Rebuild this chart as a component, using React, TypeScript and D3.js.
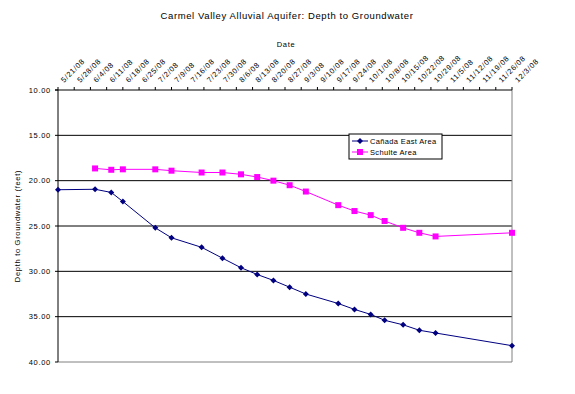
import React from 'react';
import * as d3 from 'd3';

// chart data
const parseDate = d3.timeParse('%m/%d/%y');

const canadaDates = ['05/21/08', '06/06/08', '06/13/08', '06/18/08', '07/02/08', '07/09/08', '07/22/08', '07/31/08', '08/08/08', '08/15/08', '08/22/08', '08/29/08', '09/05/08', '09/19/08', '09/26/08', '10/03/08', '10/09/08', '10/17/08', '10/24/08', '10/31/08', '12/03/08'];
const canadaDepth = [21.0, 20.95, 21.3, 22.3, 25.2, 26.3, 27.35, 28.55, 29.6, 30.35, 31.0, 31.75, 32.5, 33.55, 34.2, 34.75, 35.4, 35.9, 36.5, 36.8, 38.2];

const schulteDates = ['06/06/08', '06/13/08', '06/18/08', '07/02/08', '07/09/08', '07/22/08', '07/31/08', '08/08/08', '08/15/08', '08/22/08', '08/29/08', '09/05/08', '09/19/08', '09/26/08', '10/03/08', '10/09/08', '10/17/08', '10/24/08', '10/31/08', '12/03/08'];
const schulteDepth = [18.65, 18.8, 18.75, 18.75, 18.9, 19.1, 19.1, 19.3, 19.6, 20.0, 20.5, 21.2, 22.7, 23.35, 23.8, 24.45, 25.2, 25.75, 26.15, 25.75];

const yTicks = [10, 15, 20, 25, 30, 35, 40];
const xStart = '05/21/08';
const xEnd = '12/03/08';

const NAVY = '#000080';
const MAGENTA = '#FF00FF';
const FONT = 'Arial, "Liberation Sans", sans-serif';

type Pt = { date: Date; value: number };

const App = () => {
  const plot = { left: 58, right: 512, top: 90, bottom: 362 };

  const x = d3.scaleTime()
    .domain([parseDate(xStart)!, parseDate(xEnd)!])
    .range([plot.left, plot.right]);

  // depth axis runs downward
  const y = d3.scaleLinear()
    .domain([10, 40])
    .range([plot.top, plot.bottom]);

  const xTicks = d3.timeWednesday.range(parseDate(xStart)!, d3.timeDay.offset(parseDate(xEnd)!, 1));
  const fmt = d3.timeFormat('%-m/%-d/%y');

  const canada: Pt[] = canadaDates.map((d, i) => ({ date: parseDate(d)!, value: canadaDepth[i] }));
  const schulte: Pt[] = schulteDates.map((d, i) => ({ date: parseDate(d)!, value: schulteDepth[i] }));

  const line = d3.line<Pt>().x(d => x(d.date)).y(d => y(d.value));

  const diamond = (cx: number, cy: number, r = 3) =>
    `M${cx},${cy - r}L${cx + r},${cy}L${cx},${cy + r}L${cx - r},${cy}Z`;

  const small = { fontSize: 7.5, letterSpacing: 0.7 };
  const legendText = { fontSize: 7.5, letterSpacing: 0.35 };

  return (
    <svg width={575} height={394} style={{ position: 'absolute', left: 0, top: 0, background: '#fff' }}
      fontFamily={FONT}>
      <text x={287} y={19} textAnchor="middle" fontSize={9.5} letterSpacing={0.6}>
        Carmel Valley Alluvial Aquifer: Depth to Groundwater
      </text>
      <text x={286} y={47} textAnchor="middle" {...small}>Date</text>
      <text transform={`translate(20,${(plot.top + plot.bottom) / 2}) rotate(-90)`} textAnchor="middle" {...small}>
        Depth to Groundwater (feet)
      </text>

      {/* gridlines */}
      {yTicks.slice(1, -1).map(t => (
        <line key={t} x1={plot.left} x2={plot.right} y1={y(t)} y2={y(t)} stroke="#000" strokeWidth={1} />
      ))}
      {/* plot area border: right and bottom gray */}
      <line x1={plot.right} x2={plot.right} y1={plot.top} y2={plot.bottom} stroke="#808080" />
      <line x1={plot.left} x2={plot.right} y1={plot.bottom} y2={plot.bottom} stroke="#808080" />

      {/* y axis */}
      <line x1={plot.left} x2={plot.left} y1={plot.top} y2={plot.bottom} stroke="#000" />
      {yTicks.map(t => (
        <g key={t}>
          <line x1={plot.left - 3} x2={plot.left} y1={y(t)} y2={y(t)} stroke="#000" />
          <text x={plot.left - 7} y={y(t)} dy="0.35em" textAnchor="end" {...small}>{t.toFixed(2)}</text>
        </g>
      ))}

      {/* x axis on top */}
      <line x1={plot.left - 3} x2={plot.right} y1={plot.top} y2={plot.top} stroke="#000" />
      {xTicks.map((t, i) => (
        <g key={i}>
          <line x1={x(t)} x2={x(t)} y1={plot.top - 3} y2={plot.top} stroke="#000" />
          <text transform={`translate(${x(t) + 6},${plot.top - 7}) rotate(-45)`} {...small}>{fmt(t)}</text>
        </g>
      ))}

      {/* series */}
      <path d={line(canada) ?? ''} fill="none" stroke={NAVY} strokeWidth={1} />
      {canada.map((d, i) => (
        <path key={i} d={diamond(x(d.date), y(d.value))} fill={NAVY} />
      ))}
      <path d={line(schulte) ?? ''} fill="none" stroke={MAGENTA} strokeWidth={1} />
      {schulte.map((d, i) => (
        <rect key={i} x={x(d.date) - 3} y={y(d.value) - 3} width={6} height={6} fill={MAGENTA} />
      ))}

      {/* legend */}
      <g transform="translate(349,134)">
        <rect x={0} y={0} width={93} height={25} fill="#fff" stroke="#000" />
        <line x1={3} x2={19} y1={7} y2={7} stroke={NAVY} />
        <path d={diamond(11, 7)} fill={NAVY} />
        <text x={21} y={7} dy="0.35em" {...legendText}>Cañada East Area</text>
        <line x1={3} x2={19} y1={18} y2={18} stroke={MAGENTA} />
        <rect x={8} y={15} width={6} height={6} fill={MAGENTA} />
        <text x={21} y={18} dy="0.35em" {...legendText}>Schulte Area</text>
      </g>
    </svg>
  );
};

export default App;
